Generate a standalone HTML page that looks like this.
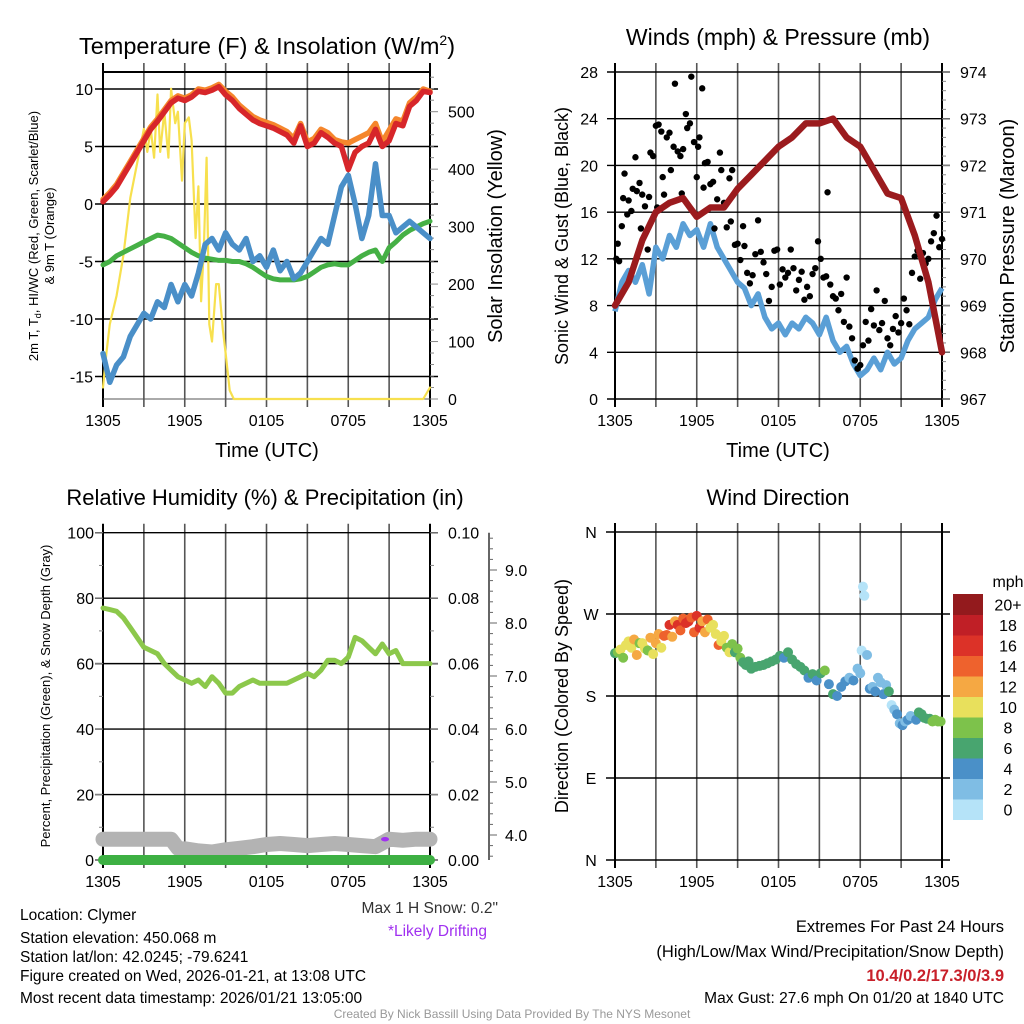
<!DOCTYPE html>
<html><head><meta charset="utf-8">
<style>
html,body{margin:0;padding:0;background:#fff;}
svg{display:block;font-family:"Liberation Sans",Arial,sans-serif;}
</style></head>
<body>
<svg id="chart" width="1024" height="1024" viewBox="0 0 1024 1024" xmlns="http://www.w3.org/2000/svg"></svg>
<script>
// ---------- DATA ----------
const timeTicks = ["1305","1905","0105","0705","1305"];
const tempHours = [0,0.5,1,1.5,2,2.5,3,3.5,4,4.5,5,5.5,6,6.5,7,7.5,8,8.5,9,9.5,10,10.5,11,11.5,12,12.5,13,13.5,14,14.5,15,15.5,16,16.5,17,17.5,18,18.5,19,19.5,20,20.5,21,21.5,22,22.5,23,23.5,24];
const tempRed = [0.2,0.8,1.5,2.5,3.5,4.5,5.5,6.5,7.2,8,8.8,9.2,9.0,9.3,9.8,9.7,9.9,10.2,9.5,9.0,8.3,7.8,7.3,7.0,6.8,6.6,6.3,6.0,5.3,6.8,5.0,5.3,6.2,5.8,5.3,5.0,3.0,4.5,5.0,5.3,6.5,5.0,5.5,7.0,6.8,8.5,9.0,9.8,9.7];
const temp9m = [0.4,1.0,1.7,2.7,3.7,4.7,5.7,6.7,7.4,8.2,9.0,9.4,9.2,9.5,10.0,9.9,10.1,10.4,9.8,9.3,8.6,8.1,7.6,7.3,7.1,6.9,6.6,6.3,5.7,7.0,5.4,5.7,6.5,6.2,5.6,5.4,5.3,5.6,5.9,6.2,7.0,5.4,6.4,7.4,7.2,8.8,9.3,10.0,9.8];
const dewGreen = [-5.3,-5.0,-4.5,-4.2,-3.9,-3.6,-3.3,-3.0,-2.7,-2.8,-3.0,-3.4,-3.8,-4.2,-4.5,-4.7,-4.8,-4.9,-4.9,-5.0,-5.0,-5.2,-5.5,-5.9,-6.3,-6.5,-6.6,-6.6,-6.6,-6.5,-6.3,-5.9,-5.5,-5.3,-5.2,-5.3,-5.3,-4.9,-4.5,-4.2,-4.0,-5.0,-3.8,-3.3,-2.7,-2.3,-2.0,-1.7,-1.5];
const windChill = [-13,-15.5,-14,-13.3,-11.5,-10.5,-9.5,-10,-8.5,-9,-7,-8.5,-7,-8,-6,-3.5,-3,-4,-2.5,-3.5,-4,-3,-5,-4.5,-5.5,-4,-5.8,-5,-6.5,-6,-5,-4,-3,-3.5,-1,1.5,2.5,0,-3,-1,3.5,-1,-1,-2.5,-2,-1.5,-2,-2.5,-3];
const solarHours = [0,0.25,0.5,1,1.5,2,2.5,3,3.25,3.5,3.75,4,4.2,4.5,4.8,5,5.3,5.5,5.8,6,6.3,6.5,6.8,7,7.2,7.4,7.6,7.8,8,8.3,8.5,8.8,9,9.3,9.6,12,18,23.5,24];
const solarVals = [20,80,130,180,250,350,410,470,430,470,420,530,430,500,420,540,480,500,380,480,490,450,280,370,170,260,420,130,100,200,200,120,80,15,0,0,0,0,20];
const windSpeed = [7.5,10,11,10,11.5,9,13,12,14,13,15,14,14.5,13,15,13,12,11,10,9.5,8,9,7,6,6.5,5.5,6.5,6,7,6.5,5.5,7,5,4,4.5,3,2,2.5,3.5,2.5,4,3,3.5,5,6,6.5,7,8.5,9.5];
const pressHours = [0,1,2,3,4,5,5.5,6,7,8,9,10,11,12,13,14,15,16,17,18,19,20,21,22,23,24];
const pressVals = [969.0,969.5,970.4,971.0,971.2,971.3,971.1,970.9,971.1,971.1,971.5,971.8,972.1,972.4,972.6,972.9,972.9,973.0,972.6,972.4,971.9,971.4,971.3,970.5,969.5,968.0];
const gustHours = [0.1,0.2,0.3,0.5,0.6,0.7,0.9,1.0,1.2,1.3,1.5,1.6,1.8,1.9,2.0,2.2,2.4,2.5,2.6,2.8,3.0,3.1,3.2,3.4,3.5,3.6,3.8,4.0,4.1,4.3,4.4,4.6,4.8,4.9,5.0,5.2,5.3,5.5,5.6,5.8,6.0,6.1,6.2,6.4,6.5,6.6,6.8,7.0,7.2,7.3,7.5,7.7,7.8,8.0,8.2,8.4,8.5,8.6,8.8,9.0,9.2,9.4,9.5,9.7,9.9,10.1,10.3,10.5,10.7,10.9,11.1,11.3,11.5,11.7,11.9,12.1,12.3,12.5,12.7,12.9,13.1,13.3,13.5,13.7,13.9,14.1,14.3,14.5,14.7,14.9,15.1,15.3,15.5,15.6,15.8,16.0,16.2,16.4,16.6,16.8,17.0,17.2,17.4,17.6,17.8,18.0,18.2,18.4,18.6,18.8,19.0,19.2,19.4,19.6,19.8,20.0,20.2,20.4,20.6,20.8,21.0,21.2,21.4,21.6,21.8,22.0,22.2,22.4,22.6,22.8,23.0,23.2,23.4,23.6,23.8,24.0];
const gustVals = [12,13.3,11.8,14.8,17.2,19.3,15.8,17,16.1,18,20.7,17.8,18.5,14.6,17.5,16.5,12.8,17.3,21.1,20.8,23.4,16.4,23.5,22.9,19,17.5,22.4,22.8,19.6,21.6,27,21.2,20.8,17.6,21.4,24.4,23.2,23.6,27.6,22,19,21.6,22.4,26.6,18.1,20.2,20.3,18.4,18.6,14.6,17.1,21.1,19.6,16.8,14.7,18.9,15.2,19.6,13.2,13.3,11.9,14.8,13.1,10.8,9.9,10.6,12.4,15.3,12.6,11.7,10.7,8.4,9.6,12.7,12.8,9.8,11.1,10.4,10.8,12.8,11.2,9.3,10.2,10.9,8.5,9.6,8.8,10.7,11.2,13.5,12.0,10.4,10.5,17.7,9.8,8.8,8.6,7.6,9.0,6.6,10.4,6.2,5.2,3.3,2.6,2.9,4.6,6.6,5.0,7.7,6.3,9.3,5.9,6.5,8.4,5.2,4.6,6.0,7.1,5.7,6.5,8.6,7.6,6.4,10.8,12.2,12.7,10.3,12.5,11.6,12.0,13.5,14.2,15.7,13.0,13.7,14.7,15.3];
const rhVals = [77,76.5,76,74,71,68,65,64,63,60,58,56,55,54,55,53,56,54,51,51,53,54,55,54,54,54,54,54,55,56,57,56,58,61,61,60,62,68,67,65,63,66,63,64,60,60,60,60,60];
const snowHours = [0,1,2,3,4,5,5.5,6,7,8,9,10,11,12,13,14,15,16,17,18,19,20,20.5,21,22,23,24];
const snowDepth = [3.92,3.92,3.92,3.92,3.92,3.92,3.75,3.74,3.7,3.68,3.72,3.75,3.78,3.82,3.84,3.82,3.8,3.82,3.84,3.82,3.8,3.78,3.85,3.92,3.9,3.92,3.92];
const precipHours = [0,24];
const precipVals = [0,0];
const dirHours = [0,0.2,0.4,0.6,0.8,1.0,1.2,1.4,1.6,1.8,2.0,2.2,2.4,2.6,2.8,3.0,3.2,3.4,3.6,3.8,4.0,4.2,4.4,4.6,4.8,5.0,5.2,5.4,5.6,5.8,6.0,6.2,6.4,6.6,6.8,7.0,7.2,7.4,7.6,7.8,8.0,8.2,8.4,8.6,8.8,9.0,9.2,9.4,9.6,9.8,10.0,10.3,10.6,10.9,11.2,11.5,11.8,12.1,12.4,12.7,13.0,13.3,13.6,13.9,14.2,14.5,14.8,15.1,15.4,15.7,16.0,16.3,16.6,16.9,17.2,17.5,17.8,18.0,18.1,18.2,18.3,18.5,18.7,18.9,19.1,19.3,19.5,19.7,19.9,20.1,20.3,20.5,20.7,20.9,21.1,21.3,21.5,21.7,21.9,22.1,22.3,22.5,22.7,22.9,23.1,23.3,23.5,23.7,23.9];
const dirVals = [227,228,231,222,236,240,233,242,225,238,238,232,230,244,226,238,248,233,246,247,258,245,262,258,252,265,260,262,266,250,268,255,262,250,264,255,258,248,236,240,246,233,228,237,228,232,222,217,214,218,210,212,213,214,216,218,220,224,222,228,220,215,212,208,200,204,197,205,208,193,182,180,190,196,200,197,210,205,230,300,290,225,188,190,185,200,195,182,192,185,170,165,160,150,148,152,154,158,157,154,162,160,156,155,155,152,154,152,152];
const dirSpeed = [7,8,10,8,11,11,10,12,12,9,11,10,8,12,10,12,13,11,14,14,16,12,13,17,14,15,16,17,14,15,17,16,13,12,15,11,11,10,14,11,10,9,10,8,7,9,8,6,7,6,7,6,6,7,6,6,6,6,5,6,6,7,6,6,5,7,4,7,8,5,6,4,4,5,3,4,2,2,1,1,0,2,4,3,4,3,2,4,3,6,1,2,4,2,4,3,4,2,3,5,6,7,6,7,7,8,8,9,8];
const cbLabels = ["0","2","4","6","8","10","12","14","16","18","20+"];
const cbColors = ["#b5e3f8","#7fbde4","#4a90c8","#48a56f","#7dc24b","#e8e05c","#f5a843","#ee622d","#dc3228","#c01f26","#931a1d"];

// ---------- helpers ----------
const NS="http://www.w3.org/2000/svg";
const svg=document.getElementById('chart');
function el(tag,attrs,parent){const e=document.createElementNS(NS,tag);for(const k in attrs)e.setAttribute(k,attrs[k]);(parent||svg).appendChild(e);return e;}
function txt(s,x,y,size,anchor,fill,parent,rot){const t=el('text',{x:x,y:y,'font-size':size,'text-anchor':anchor||'middle',fill:fill||'#000'},parent);if(rot)t.setAttribute('transform','rotate(-90 '+x+' '+y+')');t.textContent=s;return t;}
const X0=103,X1=430,X0b=615,X1b=942;
function xs(h,left){return left?X0+h*(X1-X0)/24:X0b+h*(X1b-X0b)/24;}
function lin(d0,d1,p0,p1){return v=>p0+(v-d0)*(p1-p0)/(d1-d0);}
function pathFrom(xsArr,ysArr){return xsArr.map((x,i)=>(i?'L':'M')+x.toFixed(1)+' '+ysArr[i].toFixed(1)).join(' ');}

function frame(left,yTop,yBot,name){
  const g=el('g',{});
  
  
  const xa=left?X0:X0b, xb=left?X1:X1b;
  for(let i=1;i<8;i++){const x=xa+i*(xb-xa)/8;el('line',{x1:x,x2:x,y1:yTop-9,y2:yBot+8,stroke:'#555','stroke-width':1.6},g);}
  el('line',{x1:xa,x2:xa,y1:yTop-9,y2:yBot+8,stroke:'#000','stroke-width':2},g);
  el('line',{x1:xb,x2:xb,y1:yTop-9,y2:yBot+8,stroke:'#000','stroke-width':2},g);
  timeTicks.forEach((t,i)=>{const x=xa+i*(xb-xa)/4;const l=txt(t,x,yBot+27,16,'middle','#000',g);});
  return g;
}
function hgrid(ys,xa,xb,g,color){ys.forEach(y=>el('line',{x1:xa-8,x2:xb+8,y1:y,y2:y,stroke:color||'#000','stroke-width':1.4},g));}

// ================= PANEL 1 =================
(function(){
  const yT=lin(0,10,204,89), yS=lin(0,500,399,111.7);
  const g=frame(true,72,399,'temperature-panel');
  el('line',{x1:X0,x2:X1,y1:72,y2:72,stroke:'#000','stroke-width':2},g);
  const ticks=[10,5,0,-5,-10,-15];
  hgrid(ticks.map(yT),X0,X1,g);
  el('line',{x1:X0,x2:X1,y1:399,y2:399,stroke:'#555','stroke-width':1},g);
  ticks.forEach(v=>{const t=txt(String(v),93,yT(v)+6,16,'end','#000',g);});
  for(let v=0;v<=560;v+=20){const y=yS(v);el('line',{x1:X1,x2:X1+(v%100?4:8),y1:y,y2:y,stroke:'#888','stroke-width':1},g);}
  [0,100,200,300,400,500].forEach(v=>{const t=txt(String(v),448,yS(v)+6,16,'start','#000',g);});
  const sx=tempHours.map(h=>xs(h,true));
  const lines=[[solarHours.map(h=>xs(h,true)),solarVals.map(yS),'#f7e04e',2.2,'solar-insolation-line'],
    [sx,dewGreen.map(yT),'#45b045',5,'dewpoint-line'],
    [sx,windChill.map(yT),'#4a8fc8',5.5,'wind-chill-line'],
    [sx,temp9m.map(yT),'#f5862c',5.5,'temp-9m-line'],
    [sx,tempRed.map(yT),'#d7262a',5.5,'temp-2m-line']];
  lines.forEach(L=>{const p=el('path',{d:pathFrom(L[0],L[1]),fill:'none',stroke:L[2],'stroke-width':L[3],'stroke-linejoin':'round','stroke-linecap':'round'});});
  const t1=el('text',{x:267,y:54,'font-size':23.5,'text-anchor':'middle'});
  t1.innerHTML='Temperature (F) &amp; Insolation (W/m<tspan dy="-9" font-size="14">2</tspan><tspan dy="9">)</tspan>';
  const tx=txt('Time (UTC)',267,457,20);
  const yl=el('text',{x:38,y:236,'font-size':13,'text-anchor':'middle',transform:'rotate(-90 38 236)'});
  yl.innerHTML='2m T, T<tspan dy="3" font-size="9">d</tspan><tspan dy="-3">, HI/WC (Red, Green, Scarlet/Blue)</tspan>';
  const yl2=txt('& 9m T (Orange)',54,236,13,'middle','#000',null,true);
  const yr=txt('Solar Insolation (Yellow)',502,236,20,'middle','#000',null,true);
})();

// ================= PANEL 2 =================
(function(){
  const yW=lin(0,28,399,72), yP=lin(967,974,399,72);
  const g=frame(false,72,399,'wind-panel');
  const ticks=[0,4,8,12,16,20,24,28];
  hgrid(ticks.map(yW),X0b,X1b,g);
  ticks.forEach(v=>{const t=txt(String(v),598,yW(v)+6,16,'end','#000',g);});
  for(let v=967;v<=974.001;v+=0.2){const y=yP(v);el('line',{x1:X1b,x2:X1b+(Math.abs(v-Math.round(v))<0.01?8:4),y1:y,y2:y,stroke:'#888','stroke-width':1},g);}
  [967,968,969,970,971,972,973,974].forEach(v=>{const t=txt(String(v),960,yP(v)+6,16,'start','#000',g);});
  const p1=el('path',{d:pathFrom(tempHours.map(h=>xs(h,false)),windSpeed.map(yW)),fill:'none',stroke:'#5a9fd6','stroke-width':5.5,'stroke-linejoin':'round'});
  
  const gg=el('g',{});
  gustHours.forEach((h,i)=>{const c=el('circle',{cx:xs(h,false),cy:yW(gustVals[i]),r:3.2,fill:'#000'},gg);});
  const p2=el('path',{d:pathFrom(pressHours.map(h=>xs(h,false)),pressVals.map(yP)),fill:'none',stroke:'#9b1b1e','stroke-width':6.5,'stroke-linejoin':'round','stroke-linecap':'round'});
  
  const t=txt('Winds (mph) & Pressure (mb)',778,45,23);
  const tx=txt('Time (UTC)',778,457,20);
  const yl=txt('Sonic Wind & Gust (Blue, Black)',568,236,18,'middle','#000',null,true);
  const yr=txt('Station Pressure (Maroon)',1014,236,20,'middle','#000',null,true);
})();

// ================= PANEL 3 =================
(function(){
  const yR=lin(0,100,860,532.7), yPr=lin(0,0.1,860,532.7), ySn=lin(4,9,835,570);
  const g=frame(true,532.7,860,'humidity-panel');
  const ticks=[0,20,40,60,80,100];
  hgrid(ticks.map(yR),X0,X1,g);
  ticks.forEach(v=>{const t=txt(String(v),94,yR(v)+6,16,'end','#000',g);});
  for(let v=0;v<=100;v+=10){el('line',{x1:X0-(v%20?4:8),x2:X0,y1:yR(v),y2:yR(v),stroke:'#888','stroke-width':1},g);el('line',{x1:X1,x2:X1+(v%20?4:8),y1:yR(v),y2:yR(v),stroke:'#888','stroke-width':1},g);}
  ['0.00','0.02','0.04','0.06','0.08','0.10'].forEach(s=>{const t=txt(s,448,yPr(parseFloat(s))+6,16,'start','#000',g);});
  const sa=el('g',{});
  el('line',{x1:489,x2:489,y1:532.7,y2:860,stroke:'#333','stroke-width':1.5},sa);
  for(let v=3.2;v<=9.61;v+=0.2){const y=ySn(v);if(y<533||y>860)continue;const major=Math.abs(v-Math.round(v))<0.01;el('line',{x1:489,x2:489+(major?8:4),y1:y,y2:y,stroke:'#666','stroke-width':1},sa);}
  ['4.0','5.0','6.0','7.0','8.0','9.0'].forEach(s=>{const t=txt(s,505,ySn(parseFloat(s))+6,16,'start','#000',sa);});
  const ps=el('path',{d:pathFrom(snowHours.map(h=>xs(h,true)),snowDepth.map(ySn)),fill:'none',stroke:'#b3b3b3','stroke-width':15,'stroke-linejoin':'round','stroke-linecap':'round'});
  
  const pp=el('path',{d:pathFrom(precipHours.map(h=>xs(h,true)),precipVals.map(yPr)),fill:'none',stroke:'#3db043','stroke-width':10,'stroke-linecap':'round'});
  
  el('line',{x1:X0,x2:X1,y1:860,y2:860,stroke:'#000','stroke-width':1.4},g);
  const dr=el('ellipse',{cx:xs(20.7,true),cy:ySn(3.92),rx:4,ry:2.2,fill:'#a030f0'});
  const pr=el('path',{d:pathFrom(tempHours.map(h=>xs(h,true)),rhVals.map(yR)),fill:'none',stroke:'#8cc84b','stroke-width':5,'stroke-linejoin':'round','stroke-linecap':'round'});
  
  const t=txt('Relative Humidity (%) & Precipitation (in)',265,505,22);
  const yl=txt('Percent, Precipitation (Green), & Snow Depth (Gray)',50,696,13,'middle','#000',null,true);
})();

// ================= PANEL 4 =================
(function(){
  const yD=lin(0,360,860,532);
  const g=frame(false,532,860,'direction-panel');
  const labs=['N','E','S','W','N'];
  [0,90,180,270,360].forEach((v,i)=>{el('line',{x1:X0b-9,x2:X1b+8,y1:yD(v),y2:yD(v),stroke:'#000','stroke-width':1.4},g);const t=txt(labs[i],591,yD(v)+6,16,'middle','#000',g);});
  const pg=el('g',{});
  dirHours.forEach((h,i)=>{const idx=Math.min(10,Math.floor(dirSpeed[i]/2));const c=el('circle',{cx:xs(h,false),cy:yD(dirVals[i]),r:5,fill:cbColors[idx]},pg);});
  const cb=el('g',{});
  const top=594,bh=20.5;
  cbColors.forEach((c,i)=>{const y=top+(10-i)*bh;el('rect',{x:953,y:y,width:30,height:bh+0.5,fill:c},cb);const t=txt(cbLabels[i],1008,y+bh/2+6,16,'middle','#000',cb);});
  const mu=txt('mph',1008,587,16,'middle','#000',cb);
  const t=txt('Wind Direction',778,505,22);
  const yl=txt('Direction (Colored By Speed)',568,696,18,'middle','#000',null,true);
})();

// ================= FOOTER TEXT =================
(function(){
  const info=[['Location: Clymer',920],['Station elevation: 450.068 m',943],['Station lat/lon: 42.0245; -79.6241',962],['Figure created on Wed, 2026-01-21, at 13:08 UTC',981],['Most recent data timestamp: 2026/01/21 13:05:00',1003]];
  info.forEach(r=>{const t=txt(r[0],20,r[1],15.5,'start');});
  const s=txt('Max 1 H Snow: 0.2"',498,913,15.5,'end','#333');
  const d=txt('*Likely Drifting',487,936,15.5,'end','#a030f0');
  const e1=txt('Extremes For Past 24 Hours',1004,932,16.5,'end');
  const e2=txt('(High/Low/Max Wind/Precipitation/Snow Depth)',1004,957,16.5,'end');
  const e3=txt('10.4/0.2/17.3/0/3.9',1004,981,16.5,'end','#c8202a');e3.setAttribute('font-weight','bold');
  const e4=txt('Max Gust: 27.6 mph On 01/20 at 1840 UTC',1004,1003,15.5,'end');
  const c=txt('Created By Nick Bassill Using Data Provided By The NYS Mesonet',512,1018,12,'middle','#999');
})();
</script>
</body></html>
